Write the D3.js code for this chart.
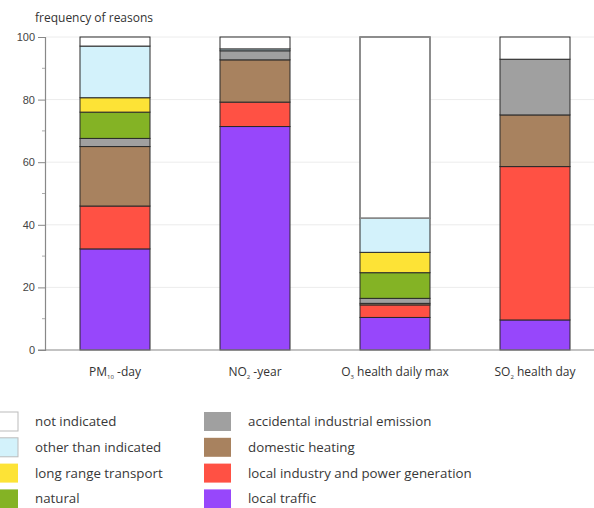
<!DOCTYPE html>
<html>
<head>
<meta charset="utf-8">
<script src="https://cdn.jsdelivr.net/npm/d3@7"></script>
<style>
  body { margin: 0; background: #fff; }
  svg { display: block; font-family: "Open Sans", Lato, sans-serif; }
</style>
</head>
<body>
<div id="chart"></div>
<script>
// categories (label base + subscript + rest)
var categories = ["PM10-day", "NO2-year", "O3 health daily max", "SO2 health day"];
var labelParts = [["PM", "10", " -day"], ["NO", "2", " -year"], ["O", "3", " health daily max"], ["SO", "2", " health day"]];

// series, bottom to top
var reasons = ["local traffic", "local industry and power generation", "domestic heating",
  "accidental industrial emission", "natural", "long range transport",
  "other than indicated", "not indicated"];
var colors = ["#9747fb", "#ff5144", "#a8825f", "#a0a0a0", "#84b325", "#fde336", "#d3f2fb", "#ffffff"];

var localTraffic   = [32.3, 71.4, 10.4, 9.6];
var localIndustry  = [13.7, 7.8, 4.0, 49.0];
var domesticHeat   = [19.0, 13.5, 0.5, 16.5];
var accidental     = [2.6, 2.9, 1.6, 17.8];
var natural        = [8.4, 0, 8.2, 0];
var longRange      = [4.6, 0, 6.5, 0];
var otherThan      = [16.5, 0.6, 10.9, 0];
var notIndicated   = [2.9, 3.8, 57.9, 7.1];

var yTicks = [0, 20, 40, 60, 80, 100];
var yMinor = [10, 30, 50, 70, 90];

var seriesValues = [localTraffic, localIndustry, domesticHeat, accidental, natural, longRange, otherThan, notIndicated];

var width = 594, height = 508;
var svg = d3.select("#chart").append("svg").attr("width", width).attr("height", height);

var x = d3.scaleBand().domain(categories).range([45, 605]).paddingInner(0.5).paddingOuter(0.25);
var y = d3.scaleLinear().domain([0, 100]).range([350, 37]);

// grid
svg.append("g").selectAll("line").data(yTicks.slice(1)).enter().append("line")
  .attr("x1", 46).attr("x2", width).attr("y1", function (d) { return y(d); }).attr("y2", function (d) { return y(d); })
  .attr("stroke", "#ececec").attr("stroke-width", 1);

// stacked data
var rows = categories.map(function (c, i) {
  var r = { cat: c };
  reasons.forEach(function (k, j) { r[k] = seriesValues[j][i]; });
  return r;
});
var stack = d3.stack().keys(reasons)(rows);

var layers = svg.append("g").selectAll("g").data(stack).enter().append("g")
  .attr("fill", function (d, i) { return colors[i]; });

layers.selectAll("rect").data(function (d) { return d.filter(function (s) { return s[1] - s[0] > 0; }); })
  .enter().append("rect")
  .attr("x", function (d) { return x(d.data.cat); })
  .attr("width", x.bandwidth())
  .attr("y", function (d) { return y(d[1]); })
  .attr("height", function (d) { return y(d[0]) - y(d[1]); })
  .attr("stroke", "#2a2a2a").attr("stroke-width", 1);

// O3 white bar has grey outline
svg.append("rect")
  .attr("x", x(categories[2])).attr("width", x.bandwidth())
  .attr("y", y(100)).attr("height", y(100 - notIndicated[2]) - y(100))
  .attr("fill", "none").attr("stroke", "#8a8a8a").attr("stroke-width", 1.5);

// x baseline
svg.append("line").attr("x1", 38).attr("x2", width).attr("y1", y(0)).attr("y2", y(0))
  .attr("stroke", "#888").attr("stroke-width", 1.2);

// y axis
var yAxis = svg.append("g").attr("transform", "translate(45,0)")
  .call(d3.axisLeft(y).tickValues(yTicks).tickSize(7).tickPadding(3).tickFormat(d3.format("d")));
yAxis.select(".domain").attr("stroke", "#888").attr("stroke-width", 1.2);
yAxis.selectAll(".tick line").attr("stroke", "#888");
yAxis.selectAll("text").attr("fill", "#444").style("font-size", "11px");
svg.append("g").selectAll("line").data(yMinor).enter().append("line")
  .attr("x1", 42).attr("x2", 45).attr("y1", function (d) { return y(d); }).attr("y2", function (d) { return y(d); })
  .attr("stroke", "#aaa");

// title
svg.append("text").attr("x", 35).attr("y", 22).attr("fill", "#333").style("font-size", "12px")
  .text("frequency of reasons");

// x labels
var xl = svg.append("g").selectAll("text").data(categories).enter().append("text")
  .attr("x", function (d) { return x(d) + x.bandwidth() / 2; })
  .attr("y", 376).attr("text-anchor", "middle").attr("fill", "#333").style("font-size", "12px");
xl.each(function (d, i) {
  var t = d3.select(this), p = labelParts[i];
  t.append("tspan").text(p[0]);
  t.append("tspan").attr("dy", 3).style("font-size", "6px").text(p[1]);
  t.append("tspan").attr("dy", -3).text(p[2]);
});

// legend
var legendOrder = [7, 6, 5, 4, 3, 2, 1, 0];
var lg = svg.append("g").selectAll("g").data(legendOrder).enter().append("g")
  .attr("transform", function (d, i) {
    var col = Math.floor(i / 4), row = i % 4;
    return "translate(" + (col === 0 ? -9 : 204) + "," + (412 + row * 25.8) + ")";
  });
lg.append("rect").attr("width", 27).attr("height", 19)
  .attr("fill", function (d) { return colors[d]; })
  .attr("stroke", function (d) { return d >= 6 ? "#bbb" : "none"; });
lg.append("text").attr("x", 44).attr("y", 14).attr("fill", "#383838").style("font-size", "13.3px")
  .text(function (d) { return reasons[d]; });
</script>
</body>
</html>
